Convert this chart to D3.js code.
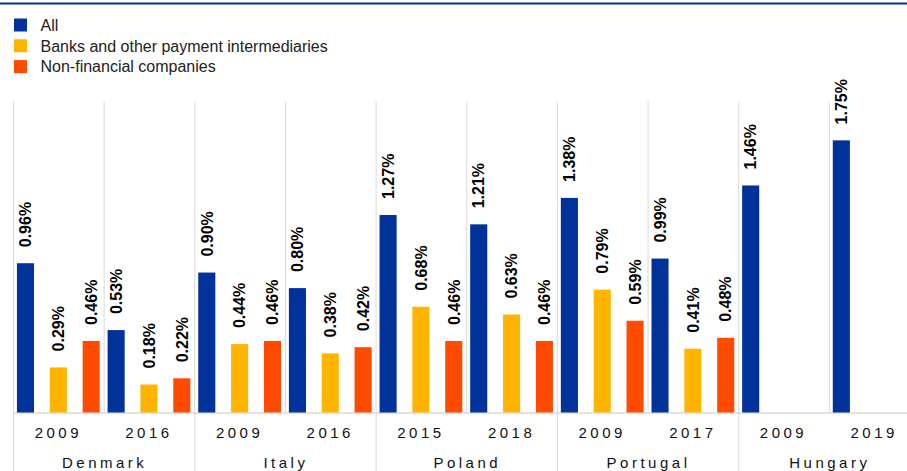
<!DOCTYPE html>
<html><head><meta charset="utf-8">
<script src="https://cdn.jsdelivr.net/npm/d3@7"></script>
<style>
html,body{margin:0;padding:0;background:#fff;}
svg{display:block;font-family:"Liberation Sans",Arial,sans-serif;}
</style></head>
<body>
<svg id="c" width="907" height="471"></svg>
<script>
const countries = ["Denmark","Italy","Poland","Portugal","Hungary"];
const years = [["2009","2016"],["2009","2016"],["2015","2018"],["2009","2017"],["2009","2019"]];
const seriesNames = ["All","Banks and other payment intermediaries","Non-financial companies"];
const seriesColors = ["#003299","#FFB400","#FF4B00"];
const allValues   = [[0.96,0.53],[0.90,0.80],[1.27,1.21],[1.38,0.99],[1.46,1.75]];
const banksValues = [[0.29,0.18],[0.44,0.38],[0.68,0.63],[0.79,0.41],[null,null]];
const nfcValues   = [[0.46,0.22],[0.46,0.42],[0.46,0.46],[0.59,0.48],[null,null]];
const yTicks = [0, 2];

(function(){
const svg = d3.select("#c");
const W = 907, H = 471;

svg.append("rect").attr("x",0).attr("y",2.5).attr("width",W).attr("height",2).attr("fill","#003299");

const lg = svg.append("g");
seriesNames.forEach((n,i)=>{
  const yy = 18.5 + i*20.8;
  lg.append("rect").attr("x",14).attr("y",yy).attr("width",13).attr("height",13).attr("fill",seriesColors[i]);
  lg.append("text").attr("x",40.5).attr("y",yy+6.5).attr("dy","0.36em")
    .attr("font-size",16).attr("fill","#222").text(n);
});

const plotTop = 101.5, base = 412.5;
const y = d3.scaleLinear().domain([yTicks[0], yTicks[1]]).range([base, plotTop]);
const xC = d3.scaleBand().domain(countries).range([13, 919.5]).padding(0);
const xY = d3.scaleBand().domain([0,1]).range([0, xC.bandwidth()]).padding(0);
const xS = d3.scaleBand().domain([0,1,2]).range([0, xY.bandwidth()]).paddingInner(0.48).paddingOuter(0.12);

const grid = "#d9d9d9";
const g = svg.append("g");
countries.forEach((c,ci)=>{
  const x0 = xC(c);
  g.append("line").attr("x1",x0+0.5).attr("x2",x0+0.5).attr("y1",plotTop).attr("y2",H).attr("stroke",grid).attr("stroke-width",1);
  const x1 = x0 + xY(1);
  g.append("line").attr("x1",x1+0.5).attr("x2",x1+0.5).attr("y1",plotTop).attr("y2",base).attr("stroke",grid).attr("stroke-width",1);
});
g.append("line").attr("x1",13).attr("x2",W).attr("y1",base+0.5).attr("y2",base+0.5).attr("stroke",grid).attr("stroke-width",1.5);

const seriesData = [allValues, banksValues, nfcValues];
countries.forEach((c,ci)=>{
  [0,1].forEach(yi=>{
    const gx = xC(c) + xY(yi);
    seriesData.forEach((sv,si)=>{
      const v = sv[ci][yi];
      if (v==null) return;
      const bx = gx + xS(si);
      g.append("rect").attr("x",bx).attr("y",y(v)).attr("width",xS.bandwidth()).attr("height",base - y(v))
        .attr("fill",seriesColors[si]);
      const cx = bx + xS.bandwidth()/2;
      const ty = y(v) - 16;
      g.append("text").attr("transform",`translate(${cx},${ty}) rotate(-90)`)
        .attr("dy","0.36em").attr("font-size",16).attr("font-weight","bold").attr("fill","#000")
        .text(v.toFixed(2)+"%");
    });
    g.append("text").attr("x",gx + xY.bandwidth()/2).attr("y",433).attr("dy","0.36em")
      .attr("text-anchor","middle").attr("font-size",15).attr("letter-spacing","3.5px").attr("fill","#111")
      .text(years[ci][yi]);
  });
  g.append("text").attr("x",xC(c)+xC.bandwidth()/2 + 1).attr("y",463).attr("dy","0.36em")
    .attr("text-anchor","middle").attr("font-size",15).attr("letter-spacing","3.5px").attr("fill","#111")
    .text(c);
});
})();
</script>
</body></html>
